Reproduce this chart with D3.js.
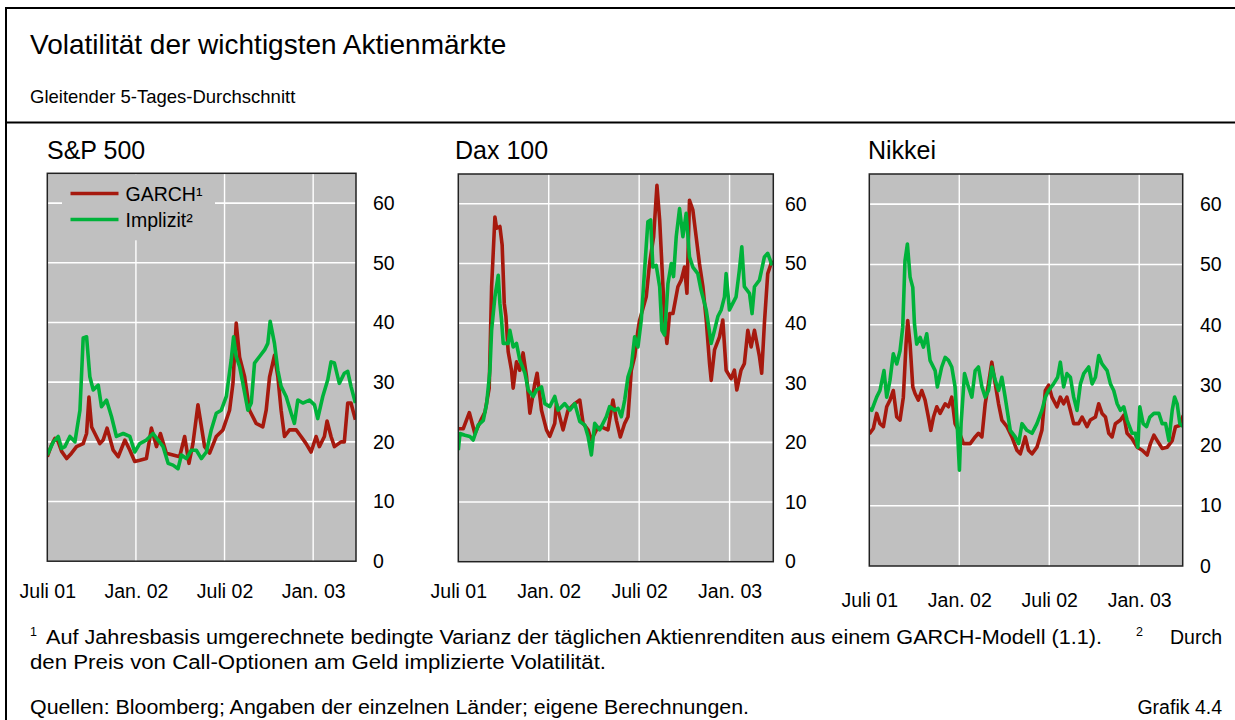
<!DOCTYPE html>
<html><head><meta charset="utf-8">
<script src="https://cdn.jsdelivr.net/npm/d3@7"></script>
<style>
body{margin:0;background:#fff}
svg{display:block}
text{font-family:"Liberation Sans",Arial,Helvetica,sans-serif;fill:#000}
</style></head><body>
<svg id="c" width="1235" height="720"></svg>
<script>
// ---------- data ----------
const titleText = "Volatilität der wichtigsten Aktienmärkte";
const subtitleText = "Gleitender 5-Tages-Durchschnitt";
const panelTitles = ["S&P 500", "Dax 100", "Nikkei"];
const seriesNames = ["GARCH¹", "Implizit²"];
const yTickValues = [0, 10, 20, 30, 40, 50, 60];
const xTickValues = [0, 6, 12, 18];            // months since July 2001
const xTickLabels = ["Juli 01", "Jan. 02", "Juli 02", "Jan. 03"];
const xDomain = [0, 20.9];
const yDomain = [0, 65];

// S&P 500 – GARCH (time in months since 1 July 2001, value in %)
const spGarchT = [0,0.29,0.52,0.74,0.97,1.31,1.64,1.98,2.43,2.66,2.82,3.0,3.22,3.56,3.78,4.05,4.46,4.8,5.25,5.59,5.92,6.26,6.71,7.05,7.39,7.66,8.06,8.51,8.96,9.3,9.59,9.86,10.2,10.65,10.99,11.44,11.89,12.34,12.57,12.79,13.02,13.36,13.69,14.14,14.59,14.82,15.05,15.38,15.61,15.83,16.06,16.4,16.85,17.18,17.52,17.86,18.2,18.42,18.76,18.94,19.21,19.44,19.89,20.11,20.34,20.56,20.86];
const spGarchV = [17.5,19.5,20.6,20.0,18.4,17.2,18.1,19.2,19.7,21.4,27.5,22.5,21.4,19.7,20.3,22.3,18.6,17.5,20.3,18.6,16.7,16.9,17.2,22.3,19.2,21.4,18.1,17.8,17.5,20.9,16.4,19.7,26.2,19.2,18.1,20.9,22.0,25.3,29.8,39.9,34.2,30.9,25.3,23.1,22.5,25.3,30.9,34.5,30.9,25.3,20.9,22.0,22.0,20.9,19.7,18.3,20.9,19.2,20.9,23.5,20.9,19.2,20.0,20.0,26.5,26.5,23.7];
// S&P 500 – implied
const spImplT = [0,0.41,0.74,0.97,1.19,1.53,1.87,2.21,2.43,2.66,2.88,3.11,3.45,3.67,4.01,4.35,4.68,5.14,5.59,5.92,6.26,6.71,7.16,7.5,7.84,8.18,8.51,8.85,9.08,9.41,9.75,10.09,10.43,10.77,11.1,11.44,11.78,12.12,12.45,12.61,12.79,13.02,13.24,13.58,13.81,14.03,14.37,14.71,14.93,15.09,15.38,15.61,15.83,16.17,16.51,16.73,16.96,17.3,17.75,18.09,18.31,18.65,18.99,19.21,19.44,19.77,20.11,20.34,20.56,20.86];
const spImplV = [17.8,20.0,20.9,18.9,19.2,20.9,20.0,25.3,37.4,37.6,30.9,28.7,29.5,25.9,27.0,24.2,20.9,21.4,20.9,18.3,19.7,20.3,21.4,20.3,19.2,16.4,16.1,15.5,17.8,17.2,18.6,18.6,17.2,18.3,22.0,24.8,25.3,27.6,33.7,37.6,34.3,32.6,29.8,25.3,26.5,33.2,34.3,35.4,36.5,40.2,36.5,32.0,29.3,27.6,24.8,23.1,27.0,26.5,27.0,26.2,23.9,27.6,30.4,33.4,33.2,29.8,31.5,31.8,29.3,26.5];

// Dax 100 – GARCH
const daxGarchT = [0,0.33,0.73,1.1,1.55,1.77,2.05,2.21,2.43,2.54,2.76,2.91,3.05,3.16,3.31,3.53,3.64,3.75,3.86,4.08,4.3,4.53,4.75,5.08,5.23,5.52,5.85,6.07,6.4,6.51,6.95,7.28,7.73,8.06,8.28,8.61,8.83,9.16,9.49,9.93,10.26,10.49,10.75,11.04,11.26,11.48,11.7,11.92,12.03,12.47,12.69,12.96,13.18,13.36,13.58,13.69,13.84,14.02,14.24,14.57,14.79,15.01,15.17,15.34,15.56,15.78,16.0,16.23,16.45,16.67,16.78,17.0,17.33,17.55,17.77,18.1,18.32,18.48,18.76,18.98,19.21,19.43,19.65,19.98,20.13,20.31,20.53,20.82];
const daxGarchV = [22.3,22.3,25.0,21.5,24.0,25.1,29.1,46.1,57.8,55.9,56.2,53.1,43.3,41.1,35.2,32.1,29.1,31.3,33.5,32.1,35.0,31.0,24.9,29.9,31.6,25.4,22.1,21.0,23.2,26.5,22.1,25.4,26.5,27.1,23.2,22.1,20.4,22.1,22.6,22.1,27.1,23.7,20.9,23.2,24.3,32.1,34.4,38.8,40.5,44.4,50.0,54.5,63.1,57.3,46.1,40.5,36.6,41.6,41.6,46.1,47.2,49.4,45.0,60.6,59.0,54.5,50.0,46.1,40.5,33.2,30.4,35.5,37.7,40.5,32.1,30.7,32.1,28.8,32.1,33.2,38.8,36.0,38.8,34.4,31.6,40.0,48.3,50.5];
// Dax 100 – implied
const daxImplT = [0,0.11,0.44,0.77,0.99,1.32,1.66,1.88,2.1,2.21,2.43,2.65,2.76,2.87,2.98,3.31,3.42,3.64,3.86,4.08,4.42,4.64,4.97,5.19,5.52,5.74,6.07,6.4,6.62,7.06,7.4,7.73,8.06,8.39,8.61,8.83,9.05,9.38,9.82,10.04,10.38,10.6,10.82,11.04,11.26,11.48,11.7,11.92,12.14,12.36,12.58,12.76,12.91,13.13,13.36,13.51,13.69,13.91,14.13,14.28,14.46,14.68,14.9,15.12,15.34,15.56,15.89,16.11,16.45,16.78,17.0,17.22,17.44,17.66,17.77,17.99,18.21,18.43,18.65,18.81,18.98,19.32,19.49,19.65,19.98,20.31,20.53,20.82];
const daxImplV = [18.7,21.5,21.2,21.0,20.4,22.9,23.7,26.5,32.1,38.8,44.4,48.0,43.3,40.5,36.6,36.6,38.8,36.0,36.6,33.8,31.6,28.8,27.7,28.8,29.3,26.5,26.0,27.7,25.4,26.5,25.4,26.5,23.5,22.9,21.0,17.9,23.2,22.1,24.3,26.0,25.4,25.7,24.3,27.1,31.0,32.7,37.7,36.0,40.5,48.9,57.0,57.3,49.4,49.7,46.1,38.8,38.0,46.6,50.0,47.8,54.5,59.2,54.5,58.4,51.1,49.4,48.3,45.5,42.2,36.6,38.8,41.1,42.2,44.4,48.3,42.2,43.3,44.4,48.9,52.8,46.1,45.0,41.6,46.1,47.2,51.1,51.7,49.7];

// Nikkei – GARCH
const nkGarchT = [0,0.27,0.49,0.71,0.94,1.16,1.38,1.6,1.83,2.05,2.27,2.45,2.56,2.72,2.9,3.05,3.27,3.5,3.72,3.94,4.1,4.28,4.5,4.72,5.06,5.28,5.5,5.72,5.95,6.28,6.73,7.06,7.28,7.51,7.73,7.95,8.17,8.4,8.62,8.84,9.18,9.51,9.84,10.07,10.4,10.62,10.85,11.18,11.51,11.74,11.96,12.18,12.52,12.74,12.96,13.18,13.41,13.63,13.96,14.19,14.52,14.74,15.08,15.3,15.52,15.75,15.97,16.19,16.41,16.75,16.97,17.19,17.53,17.86,18.2,18.53,18.75,18.98,19.2,19.53,19.87,20.2,20.42,20.71,20.94];
const nkGarchV = [21.9,22.8,25.3,23.6,23.1,26.4,27.5,29.1,24.7,24.2,28.0,36.8,40.7,36.8,29.7,28.6,27.5,29.1,27.5,24.7,22.5,24.7,26.4,25.3,26.9,26.4,28.0,23.6,22.5,20.3,20.3,21.4,22.0,21.4,26.9,30.2,33.8,30.2,26.9,24.2,23.1,21.4,19.2,18.6,21.4,19.2,18.6,19.7,22.5,29.1,30.0,28.0,26.4,28.0,26.9,28.0,25.8,23.6,23.6,24.7,23.1,24.2,24.7,26.9,25.3,24.7,22.0,21.4,23.6,24.2,25.0,22.0,21.1,19.7,19.2,18.4,20.3,21.7,20.8,19.5,19.7,20.8,23.1,23.3,25.0];
// Nikkei – implied
const nkImplT = [0,0.16,0.49,0.71,0.98,1.16,1.38,1.6,1.83,2.05,2.23,2.38,2.54,2.72,2.9,3.01,3.16,3.39,3.61,3.83,4.05,4.39,4.54,4.83,5.06,5.28,5.5,5.72,5.88,6.01,6.12,6.35,6.55,6.84,7.06,7.28,7.51,7.73,7.95,8.17,8.4,8.62,8.84,9.06,9.4,9.73,9.96,10.18,10.51,10.85,11.18,11.51,11.74,11.96,12.29,12.56,12.74,12.96,13.18,13.41,13.63,13.85,14.08,14.3,14.63,14.86,15.08,15.3,15.52,15.86,16.08,16.3,16.53,16.75,16.97,17.19,17.53,17.75,17.91,18.04,18.26,18.49,18.71,18.98,19.31,19.53,19.76,19.98,20.2,20.36,20.53,20.71,20.94];
const nkImplV = [26.1,25.8,28.0,29.1,32.4,28.0,30.8,35.2,33.5,35.7,39.6,50.6,53.4,47.9,46.2,40.2,36.8,37.9,36.3,38.5,34.1,32.4,29.7,33.0,34.6,34.1,33.0,29.7,22.5,15.9,23.6,31.9,30.2,28.0,32.4,33.0,29.7,28.0,29.1,33.0,30.8,29.1,31.3,28.0,22.5,21.4,20.3,23.6,22.5,22.0,23.6,25.8,28.0,29.1,30.2,31.3,33.8,29.7,31.9,31.3,28.0,25.8,30.2,31.9,33.0,30.2,31.3,34.9,33.5,32.4,30.2,29.1,26.9,25.8,26.4,24.2,22.0,22.0,19.7,26.4,23.6,23.1,24.7,25.3,25.3,23.6,23.6,20.8,25.8,28.0,26.9,23.6,23.1];

const footnote1 = "Auf Jahresbasis umgerechnete bedingte Varianz der täglichen Aktienrenditen aus einem GARCH-Modell (1.1).";
const footnote2a = "Durch";
const footnote2b = "den Preis von Call-Optionen am Geld implizierte Volatilität.";
const sourceText = "Quellen: Bloomberg; Angaben der einzelnen Länder; eigene Berechnungen.";
const chartNo = "Grafik 4.4";

// ---------- styles / layout ----------
const FONT = '"Liberation Sans",Arial,Helvetica,sans-serif';
const COL_BG = "#c0c0c0", COL_RED = "#a6190e", COL_GREEN = "#00b23a";
const panels = [
  {title: panelTitles[0], x0: 47.3, x1: 356, y0: 173.3, y1: 561.2, tx: 47, lblX: 373, xLblY: 598,
   series: [{t: spGarchT, v: spGarchV, c: COL_RED}, {t: spImplT, v: spImplV, c: COL_GREEN}], legend: true},
  {title: panelTitles[1], x0: 458.3, x1: 773.3, y0: 174, y1: 561.7, tx: 455, lblX: 785, xLblY: 598,
   series: [{t: daxGarchT, v: daxGarchV, c: COL_RED}, {t: daxImplT, v: daxImplV, c: COL_GREEN}]},
  {title: panelTitles[2], x0: 869.3, x1: 1182.7, y0: 174, y1: 566, tx: 868, lblX: 1200, xLblY: 607,
   series: [{t: nkGarchT, v: nkGarchV, c: COL_RED}, {t: nkImplT, v: nkImplV, c: COL_GREEN}]}
];

const svg = d3.select("#c");

// frame
svg.append("path").attr("d", "M6,720V8H1235").attr("fill", "none").attr("stroke", "#000").attr("stroke-width", 2);
svg.append("line").attr("x1", 6).attr("x2", 1235).attr("y1", 122.5).attr("y2", 122.5).attr("stroke", "#000").attr("stroke-width", 2);

svg.append("text").attr("x", 30).attr("y", 54).attr("font-size", 28).text(titleText);
svg.append("text").attr("x", 30).attr("y", 103).attr("font-size", 18.5).text(subtitleText);

panels.forEach((p, i) => {
  const x = d3.scaleLinear().domain(xDomain).range([p.x0, p.x1]);
  const y = d3.scaleLinear().domain(yDomain).range([p.y1, p.y0]);
  const g = svg.append("g");
  g.append("text").attr("x", p.tx).attr("y", 159).attr("font-size", 25).text(p.title);
  g.append("rect").attr("x", p.x0).attr("y", p.y0).attr("width", p.x1 - p.x0).attr("height", p.y1 - p.y0).attr("fill", COL_BG);
  // grid
  g.selectAll(".hg").data(yTickValues.filter(d => d > 0)).join("line")
    .attr("x1", p.x0).attr("x2", p.x1).attr("y1", d => y(d)).attr("y2", d => y(d))
    .attr("stroke", "#fff").attr("stroke-width", 1.6);
  g.selectAll(".vg").data(xTickValues.filter(d => d > 0)).join("line")
    .attr("x1", d => x(d)).attr("x2", d => x(d)).attr("y1", p.y0).attr("y2", p.y1)
    .attr("stroke", "#fff").attr("stroke-width", 1.4);
  // clip
  const cid = "clip" + i;
  svg.append("clipPath").attr("id", cid).append("rect")
    .attr("x", p.x0).attr("y", p.y0).attr("width", p.x1 - p.x0).attr("height", p.y1 - p.y0);
  // legend box (in first panel)
  if (p.legend) {
    g.append("rect").attr("x", 62).attr("y", p.y0 + 1).attr("width", 153).attr("height", 66).attr("fill", COL_BG);
  }
  const line = d3.line().x(d => x(d[0])).y(d => y(d[1]));
  p.series.forEach(s => {
    const pts = s.t.map((t, k) => [t, s.v[k]]);
    g.append("path").attr("d", line(pts)).attr("fill", "none").attr("stroke", s.c)
      .attr("stroke-width", 3.6).attr("stroke-linejoin", "round").attr("clip-path", `url(#${cid})`);
  });
  if (p.legend) {
    [[COL_RED, seriesNames[0], 193.5], [COL_GREEN, seriesNames[1], 219.5]].forEach(([c, n, ly]) => {
      g.append("line").attr("x1", 70.5).attr("x2", 118.5).attr("y1", ly).attr("y2", ly).attr("stroke", c).attr("stroke-width", 3.6);
      g.append("text").attr("x", 125.5).attr("y", ly + 7).attr("font-size", 19.5).text(n);
    });
  }
  // border
  g.append("rect").attr("x", p.x0).attr("y", p.y0).attr("width", p.x1 - p.x0).attr("height", p.y1 - p.y0)
    .attr("fill", "none").attr("stroke", "#222").attr("stroke-width", 1.5);
  // y axis labels (right side)
  const ya = d3.axisRight(y).tickValues(yTickValues).tickSize(0).tickPadding(0);
  const yg = g.append("g").attr("transform", `translate(${p.lblX},0)`).call(ya);
  yg.select(".domain").remove();
  yg.selectAll("text").attr("font-size", 19.5).attr("font-family", FONT).attr("fill", "#000");
  // x axis labels
  const xa = d3.axisBottom(x).tickValues(xTickValues).tickFormat((d, k) => xTickLabels[k]).tickSize(0).tickPadding(0);
  const xg = g.append("g").attr("transform", `translate(0,${p.xLblY})`).call(xa);
  xg.select(".domain").remove();
  xg.selectAll("text").attr("font-size", 19.5).attr("font-family", FONT).attr("fill", "#000").attr("dy", null).attr("y", 0);
});

// footnotes
const fn = svg.append("g").attr("font-size", 19.5);
fn.append("text").attr("x", 30).attr("y", 636).attr("font-size", 12.5).text("1");
fn.append("text").attr("x", 46).attr("y", 644).attr("textLength", 1056).attr("lengthAdjust", "spacingAndGlyphs").text(footnote1);
fn.append("text").attr("x", 1136).attr("y", 636).attr("font-size", 12.5).text("2");
fn.append("text").attr("x", 1222).attr("y", 644).attr("text-anchor", "end").text(footnote2a);
fn.append("text").attr("x", 30).attr("y", 669).attr("textLength", 576).attr("lengthAdjust", "spacingAndGlyphs").text(footnote2b);
fn.append("text").attr("x", 30).attr("y", 714).attr("textLength", 719).attr("lengthAdjust", "spacingAndGlyphs").text(sourceText);
fn.append("text").attr("x", 1222).attr("y", 714).attr("text-anchor", "end").text(chartNo);
</script></body></html>
